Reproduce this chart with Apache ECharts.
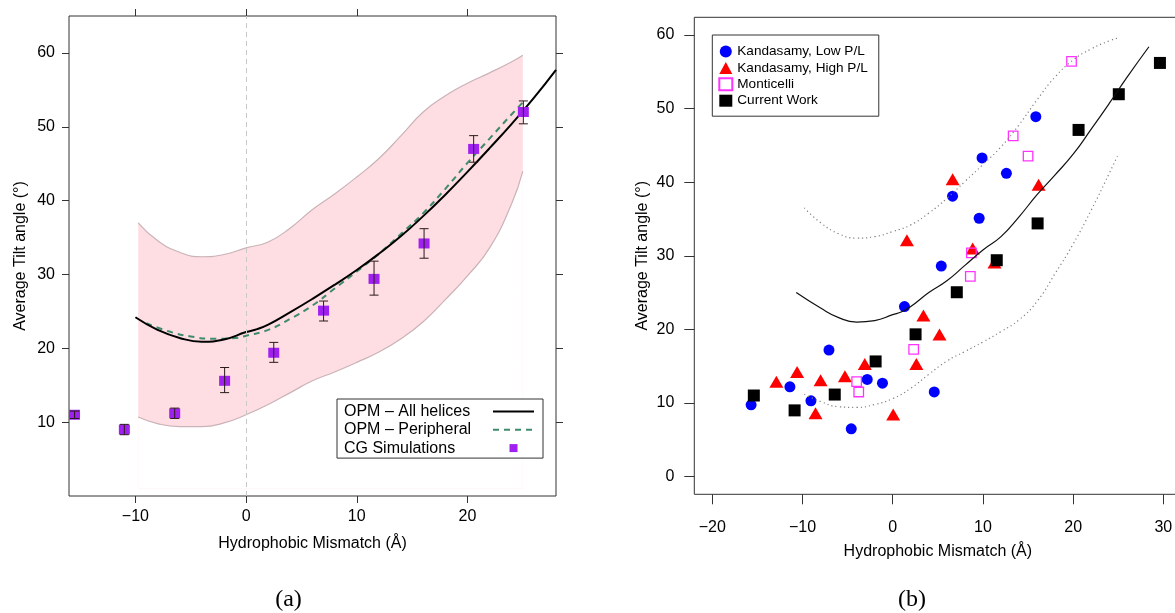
<!DOCTYPE html>
<html>
<head>
<meta charset="utf-8">
<script src="https://cdn.jsdelivr.net/npm/echarts@6/dist/echarts.min.js"></script>
<style>html,body{margin:0;padding:0;background:#fff}#c{width:1175px;height:613px}</style>
</head>
<body>
<div id="c"></div>
<script>
// ---------------- Panel (a) data ----------------
const cgX    = [-15.5, -11.0, -6.45, -1.94, 2.5, 7.0, 11.56, 16.08, 20.56, 25.05];
const cgY    = [11.0, 9.0, 11.2, 15.6, 19.4, 25.1, 29.4, 34.2, 47.0, 52.0];
const cgLow  = [10.5, 8.3, 10.5, 14.0, 18.1, 23.7, 27.2, 32.2, 45.2, 50.4];
const cgHigh = [11.5, 9.7, 11.9, 17.4, 20.8, 26.4, 31.8, 36.2, 48.8, 53.5];

const allX = [-10, -8, -6, -4, -2, 0, 1, 2, 4, 6, 8, 10, 12, 14, 16, 18, 20, 22, 24, 26, 28];
const allY = [24.2, 22.5, 21.4, 20.9, 21.2, 22.2, 22.6, 23.2, 24.9, 26.7, 28.6, 30.6, 32.8, 35.2, 37.9, 40.8, 43.9, 47.1, 50.4, 53.9, 57.7];

const periX = [-9, -7, -5, -3, -1, 0, 2, 4, 6, 8, 10, 12, 14, 16, 18, 20, 22, 24, 25];
const periY = [23.4, 22.3, 21.6, 21.3, 21.4, 21.7, 22.5, 24.0, 25.8, 28.1, 30.4, 32.8, 35.5, 38.3, 41.6, 45.1, 48.4, 51.7, 53.3];

const bandX     = [-9.75, -8, -6, -4, -2, 0, 2, 4, 6, 8, 10, 12, 14, 16, 18, 20, 22, 24, 25];
const bandUpper = [37.0, 34.6, 33.0, 32.4, 32.7, 33.6, 34.4, 36.3, 38.8, 40.9, 43.2, 45.7, 48.8, 52.0, 54.2, 55.9, 57.3, 58.8, 59.7];
const bandLower = [10.7, 9.8, 9.4, 9.4, 9.9, 11.0, 12.4, 14.0, 15.6, 16.8, 18.1, 19.5, 21.3, 23.6, 26.6, 29.8, 33.6, 39.6, 44.0];

const xTicksA = [-10, 0, 10, 20];
const yTicksA = [10, 20, 30, 40, 50, 60];

// ---------------- Panel (b) data ----------------
const lowPLX = [-15.7, -11.4, -9.07, -7.07, -4.6, -2.83, -1.14, 1.3, 4.6, 5.38, 6.63, 9.58, 9.9, 12.6, 15.86];
const lowPLY = [9.75, 12.2, 10.3, 17.2, 6.5, 13.2, 12.7, 23.1, 11.5, 28.6, 38.1, 35.1, 43.3, 41.2, 48.9];

const highPLX = [-12.9, -10.6, -8.0, -8.56, -5.3, -3.1, 0.05, 2.62, 3.4, 5.18, 1.57, 6.64, 8.86, 11.28, 16.17];
const highPLY = [12.9, 14.2, 13.1, 8.6, 13.65, 15.3, 8.45, 15.3, 21.9, 19.3, 32.1, 40.4, 31.0, 29.1, 39.65];

const montX = [-4.0, -3.77, 2.32, 8.6, 8.72, 13.35, 15.0, 19.82];
const montY = [12.9, 11.5, 17.3, 27.2, 30.4, 46.3, 43.55, 56.4];

const curX = [-15.4, -10.88, -6.43, -1.9, 2.53, 7.1, 11.53, 16.06, 20.6, 25.06, 29.62];
const curY = [11.02, 9.0, 11.15, 15.65, 19.33, 25.05, 29.4, 34.4, 47.1, 51.95, 56.2];

const fitBX = [-10.7, -8, -6, -4, -2, 0, 1, 2, 4, 6, 8, 10, 12, 14, 16, 18, 20, 22, 24, 26, 28.4];
const fitBY = [25.0, 22.9, 21.6, 21.0, 21.2, 22.0, 22.4, 23.1, 25.0, 26.6, 28.7, 30.8, 32.6, 35.3, 38.3, 41.0, 43.8, 47.2, 50.7, 54.3, 58.4];

const dotX     = [-9.8, -8, -6, -4, -2, 0, 2, 4, 6, 8, 10, 12, 14, 16, 18, 20, 22, 24, 25];
const dotUpper = [36.5, 34.5, 33.0, 32.4, 32.6, 33.3, 34.2, 35.8, 37.8, 40.1, 42.4, 44.8, 47.8, 51.2, 54.3, 56.6, 58.1, 59.2, 59.6];
const dotLower = [11.2, 10.2, 9.5, 9.4, 9.8, 10.6, 12.0, 13.9, 15.7, 17.0, 18.3, 19.7, 21.3, 23.8, 27.6, 31.6, 36.2, 41.2, 43.8];

const xTicksB = [-20, -10, 0, 10, 20, 30];
const yTicksB = [0, 10, 20, 30, 40, 50, 60];

// ---------------- helpers ----------------
const FONT = '"Liberation Sans", Arial, Helvetica, sans-serif';
const AX = '#333';
const zip = (xs, ys) => xs.map((x, i) => [x, ys[i]]);
const minusFmt = v => (v < 0 ? '\u2212' + Math.abs(v) : String(v));
const lblStyle = { fontSize: 16, color: '#000', fontFamily: FONT };
const noLine = { show: false, onZero: false };

const chart = echarts.init(document.getElementById('c'), null, { renderer: 'canvas' });

const option = {
  animation: false,
  backgroundColor: '#fff',
  grid: [
    { left: 69, top: 16, width: 487, height: 480, show: true, borderColor: AX, borderWidth: 1,
      backgroundColor: 'transparent', containLabel: false, outerBoundsMode: 'none' },
    { left: 694.3, top: 17.3, width: 487.1, height: 477, show: true, borderColor: AX, borderWidth: 1,
      backgroundColor: 'transparent', containLabel: false, outerBoundsMode: 'none' }
  ],
  xAxis: [
    { gridIndex: 0, type: 'value', min: -16, max: 28, position: 'bottom',
      splitLine: { show: false }, axisLine: noLine,
      axisTick: { show: true, length: 7, lineStyle: { color: AX }, customValues: xTicksA },
      axisLabel: Object.assign({ customValues: xTicksA, formatter: minusFmt, margin: 13 }, lblStyle),
      name: 'Hydrophobic Mismatch (\u00C5)', nameLocation: 'middle', nameGap: 40,
      nameTextStyle: lblStyle },
    { gridIndex: 0, type: 'value', min: -16, max: 28, position: 'top',
      splitLine: { show: false }, axisLine: noLine,
      axisTick: { show: true, length: 7, lineStyle: { color: AX }, customValues: xTicksA },
      axisLabel: { show: false } },
    { gridIndex: 1, type: 'value', min: -22, max: 32, position: 'bottom',
      splitLine: { show: false }, axisLine: noLine,
      axisTick: { show: true, length: 10, lineStyle: { color: AX }, customValues: xTicksB },
      axisLabel: Object.assign({ customValues: xTicksB, formatter: minusFmt, margin: 25 }, lblStyle),
      name: 'Hydrophobic Mismatch (\u00C5)', nameLocation: 'middle', nameGap: 49,
      nameTextStyle: lblStyle }
  ],
  yAxis: [
    { gridIndex: 0, type: 'value', min: 0, max: 65, position: 'left',
      splitLine: { show: false }, axisLine: noLine,
      axisTick: { show: true, length: 7, lineStyle: { color: AX }, customValues: yTicksA },
      axisLabel: Object.assign({ customValues: yTicksA, margin: 14 }, lblStyle),
      name: 'Average Tilt angle (\u00B0)', nameLocation: 'middle', nameGap: 40,
      nameTextStyle: lblStyle },
    { gridIndex: 0, type: 'value', min: 0, max: 65, position: 'right',
      splitLine: { show: false }, axisLine: noLine,
      axisTick: { show: true, length: 7, lineStyle: { color: AX }, customValues: yTicksA },
      axisLabel: { show: false } },
    { gridIndex: 1, type: 'value', min: -2.4, max: 62.4, position: 'left',
      splitLine: { show: false }, axisLine: noLine,
      axisTick: { show: true, length: 10, lineStyle: { color: AX }, customValues: yTicksB },
      axisLabel: Object.assign({ customValues: yTicksB, margin: 20 }, lblStyle),
      name: 'Average Tilt angle (\u00B0)', nameLocation: 'middle', nameGap: 44,
      nameTextStyle: lblStyle }
  ],
  legend: [
    { orient: 'vertical', left: 337, top: 399, align: 'right',
      padding: [4.5, 8, 2, 7], itemGap: 2.3, itemWidth: 41, itemHeight: 8,
      borderColor: AX, borderWidth: 1, backgroundColor: '#fff',
      selectedMode: false,
      data: [
        { name: 'OPM \u2013 All helices', itemStyle: { opacity: 0 } },
        { name: 'OPM \u2013 Peripheral', itemStyle: { opacity: 0 } },
        { name: 'CG Simulations', icon: 'path://M0,0h10v10h-10z' }
      ],
      formatter: n => '{t|' + n + '}',
      textStyle: { rich: { t: { width: 144, align: 'left', fontSize: 16, lineHeight: 17, fontFamily: FONT, color: '#000' } } }
    },
    { orient: 'vertical', left: 712.3, top: 35,
      padding: [9, 11, 8, 6], itemGap: 1.4, itemWidth: 13, itemHeight: 12,
      borderColor: AX, borderWidth: 1, backgroundColor: '#fff',
      selectedMode: false,
      data: ['Kandasamy, Low P/L', 'Kandasamy, High P/L', 'Monticelli', 'Current Work'],
      textStyle: { fontSize: 13.6, lineHeight: 15, fontFamily: FONT, color: '#000' }
    }
  ],
  series: [
    // ---- (a) band: upper edge filled pink, lower edge masks below in white ----
    { type: 'line', xAxisIndex: 0, yAxisIndex: 0, symbol: 'none', smooth: true, silent: true, z: 1,
      data: zip(bandX, bandUpper), lineStyle: { color: '#c9b3b7', width: 1.2 },
      areaStyle: { color: '#fedde3', opacity: 1, origin: 1 } },
    { type: 'line', xAxisIndex: 0, yAxisIndex: 0, symbol: 'none', smooth: true, silent: true, z: 1,
      data: zip(bandX, bandLower), lineStyle: { color: '#c9b3b7', width: 1.2 },
      areaStyle: { color: '#ffffff', opacity: 1, origin: 1 } },
    // ---- (a) lines ----
    { name: 'OPM \u2013 Peripheral', type: 'line', xAxisIndex: 0, yAxisIndex: 0, symbol: 'none', smooth: true,
      data: zip(periX, periY), lineStyle: { color: '#3e8c6c', width: 2, type: [6, 5] }, itemStyle: { color: '#3e8c6c' }, z: 3,
      markLine: { silent: true, symbol: 'none', label: { show: false },
        lineStyle: { color: '#c8c8c8', type: [5, 4], width: 1 },
        data: [{ xAxis: 0 }] } },
    { name: 'OPM \u2013 All helices', type: 'line', xAxisIndex: 0, yAxisIndex: 0, symbol: 'none', smooth: true,
      data: zip(allX, allY), lineStyle: { color: '#000', width: 2 }, itemStyle: { color: '#000' }, z: 3 },
    // ---- (a) CG points and error bars ----
    { name: 'CG Simulations', type: 'scatter', xAxisIndex: 0, yAxisIndex: 0, symbol: 'rect', symbolSize: [11, 10],
      data: zip(cgX, cgY), itemStyle: { color: '#a020f0', opacity: 1 }, z: 4 },
    { type: 'custom', xAxisIndex: 0, yAxisIndex: 0, z: 5, silent: true,
      data: cgX.map((x, i) => [x, cgLow[i], cgHigh[i]]),
      encode: { x: 0, y: [1, 2] },
      renderItem: (params, api) => {
        const x = api.value(0);
        const p1 = api.coord([x, api.value(1)]);
        const p2 = api.coord([x, api.value(2)]);
        const hw = 4.5;
        const st = { stroke: '#2a1a1a', lineWidth: 1 };
        return { type: 'group', children: [
          { type: 'line', shape: { x1: p1[0], y1: p1[1], x2: p2[0], y2: p2[1] }, style: st },
          { type: 'line', shape: { x1: p1[0] - hw, y1: p1[1], x2: p1[0] + hw, y2: p1[1] }, style: st },
          { type: 'line', shape: { x1: p2[0] - hw, y1: p2[1], x2: p2[0] + hw, y2: p2[1] }, style: st }
        ] };
      } },
    // ---- (b) points ----
    { name: 'Kandasamy, Low P/L', type: 'scatter', xAxisIndex: 2, yAxisIndex: 2, symbol: 'circle', symbolSize: 11,
      data: zip(lowPLX, lowPLY), itemStyle: { color: '#0000ff', opacity: 1 }, z: 3 },
    { name: 'Kandasamy, High P/L', type: 'scatter', xAxisIndex: 2, yAxisIndex: 2, symbol: 'triangle', symbolSize: [14, 12],
      data: zip(highPLX, highPLY), itemStyle: { color: '#ff0000', opacity: 1 }, z: 3 },
    { name: 'Monticelli', type: 'scatter', xAxisIndex: 2, yAxisIndex: 2, symbol: 'rect', symbolSize: 9.5,
      data: zip(montX, montY), itemStyle: { color: 'rgba(255,255,255,0)', borderColor: '#ff33ff', borderWidth: 1.3, opacity: 1 }, z: 3 },
    { name: 'Current Work', type: 'scatter', xAxisIndex: 2, yAxisIndex: 2, symbol: 'rect', symbolSize: 12,
      data: zip(curX, curY), itemStyle: { color: '#000', opacity: 1 }, z: 3 },
    // ---- (b) curves ----
    { type: 'line', xAxisIndex: 2, yAxisIndex: 2, symbol: 'none', smooth: true, silent: true,
      data: zip(dotX, dotUpper), lineStyle: { color: '#808080', width: 1.2, type: [1.2, 3] }, z: 4 },
    { type: 'line', xAxisIndex: 2, yAxisIndex: 2, symbol: 'none', smooth: true, silent: true,
      data: zip(dotX, dotLower), lineStyle: { color: '#808080', width: 1.2, type: [1.2, 3] }, z: 4 },
    { type: 'line', xAxisIndex: 2, yAxisIndex: 2, symbol: 'none', smooth: true, silent: true,
      data: zip(fitBX, fitBY), lineStyle: { color: '#111', width: 1.2 }, z: 4 }
  ],
  graphic: [
    { type: 'text', x: 288.5, y: 600, silent: true,
      style: { text: '(a)', fontSize: 24, fontFamily: '"Liberation Serif", "DejaVu Serif", serif', fill: '#000', align: 'center', verticalAlign: 'middle' } },
    { type: 'text', x: 912, y: 600, silent: true,
      style: { text: '(b)', fontSize: 24, fontFamily: '"Liberation Serif", "DejaVu Serif", serif', fill: '#000', align: 'center', verticalAlign: 'middle' } }
  ]
};
chart.setOption(option);
</script>
</body>
</html>
